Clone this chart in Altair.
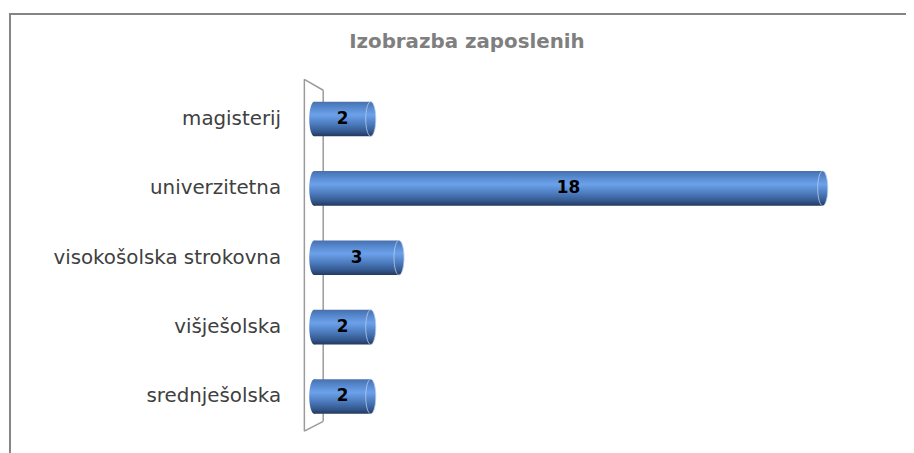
import altair as alt
import pandas as pd

categories = ["magisterij", "univerzitetna", "visokošolska strokovna", "višješolska", "srednješolska"]
values = [2, 18, 3, 2, 2]
title_text = "Izobrazba zaposlenih"

df = pd.DataFrame({"cat": categories, "val": values})

grad = alt.Gradient(
    gradient="linear", x1=0, y1=0, x2=0, y2=1,
    stops=[
        alt.GradientStop(color="#4670ad", offset=0),
        alt.GradientStop(color="#5789cf", offset=0.18),
        alt.GradientStop(color="#6ca1ea", offset=0.38),
        alt.GradientStop(color="#4f7fc2", offset=0.62),
        alt.GradientStop(color="#355a92", offset=0.85),
        alt.GradientStop(color="#23395d", offset=1),
    ],
)

# ellipse glyph (cylinder end cap), drawn with cubic curves
ellipse = ("M 0 -1 C 0.16 -1 0.29 -0.55 0.29 0 C 0.29 0.55 0.16 1 0 1 "
           "C -0.16 1 -0.29 0.55 -0.29 0 C -0.29 -0.55 -0.16 -1 0 -1 Z")

xscale = alt.Scale(domain=[0, 20], nice=False)
yenc = alt.Y(
    "cat:N", sort=categories,
    scale=alt.Scale(paddingInner=0.5, paddingOuter=0.25),
    axis=alt.Axis(title=None, ticks=False, domain=False, labelPadding=34,
                  labelFont="DejaVu Sans", labelFontSize=20, labelColor="#404040",
                  labelLimit=400),
)

base = alt.Chart(df).transform_calculate(zero="0", half="datum.val / 2")

bars = base.mark_bar(fill=grad).encode(
    x=alt.X("zero:Q", scale=xscale, axis=None), x2="val:Q", y=yenc
)
left_cap = base.mark_point(shape=ellipse, size=1225, fill=grad, filled=True,
                           opacity=1, strokeWidth=0).encode(
    x=alt.X("zero:Q", scale=xscale, axis=None), y=yenc
)
right_cap = base.mark_point(shape=ellipse, size=1225, fill=grad, filled=True,
                            opacity=1, stroke="#b9cde9", strokeWidth=0.8).encode(
    x=alt.X("val:Q", scale=xscale, axis=None), y=yenc
)
labels = base.mark_text(font="DejaVu Sans", fontWeight="bold", fontSize=17,
                        color="#000000", baseline="middle").encode(
    x=alt.X("half:Q", scale=xscale, axis=None), y=yenc, text="val:Q")

one = pd.DataFrame({"a": [0]})
frame_col = "#858585"
frame_left = alt.Chart(one).mark_rule(color=frame_col, strokeWidth=2).encode(
    x=alt.value(-307), y=alt.value(-72), y2=alt.value(380))
frame_top = alt.Chart(one).mark_rule(color=frame_col, strokeWidth=2).encode(
    x=alt.value(-308), x2=alt.value(640), y=alt.value(-71))

wall_col = "#9a9a9a"
wall_l = alt.Chart(one).mark_rule(color=wall_col, strokeWidth=1.5).encode(
    x=alt.value(-10), y=alt.value(-5), y2=alt.value(350))
wall_r = alt.Chart(one).mark_rule(color=wall_col, strokeWidth=1.5).encode(
    x=alt.value(9), y=alt.value(6), y2=alt.value(340))
wall_t = alt.Chart(one).mark_rule(color=wall_col, strokeWidth=1.5).encode(
    x=alt.value(-10), x2=alt.value(9), y=alt.value(-5), y2=alt.value(6))
wall_b = alt.Chart(one).mark_rule(color=wall_col, strokeWidth=1.5).encode(
    x=alt.value(-10), x2=alt.value(9), y=alt.value(350), y2=alt.value(340))

title = alt.Chart(pd.DataFrame({"t": [title_text]})).mark_text(
    font="DejaVu Sans", fontWeight="bold", fontSize=20, color="#7f7f7f",
    baseline="alphabetic", align="center"
).encode(text="t:N", x=alt.value(154), y=alt.value(-37))

chart = alt.layer(
    frame_left, frame_top, wall_l, wall_r, wall_t, wall_b,
    bars, left_cap, right_cap, labels, title
).properties(
    width=570, height=350,
    padding={"left": 309, "top": 75, "right": 27, "bottom": 20},
    autosize="none", background="#ffffff",
).configure_view(stroke=None)

chart.save("out.html", embed_options={"renderer": "svg", "actions": False})
